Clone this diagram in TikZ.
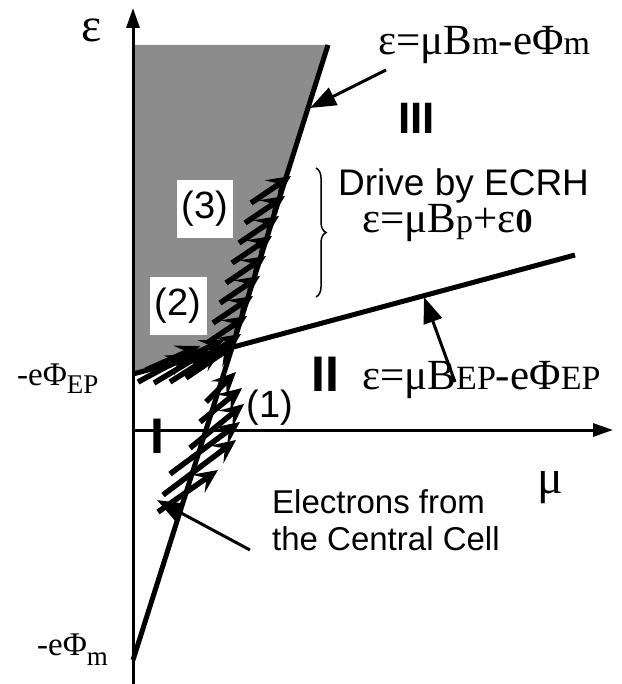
\documentclass[tikz,border=0pt]{standalone}
\usepackage{fontspec}
\setmainfont{Liberation Serif}
\setsansfont{Liberation Sans}
\usetikzlibrary{arrows.meta, decorations.pathreplacing}
\newcommand{\lowsub}[2]{\raisebox{-#1}{\fontsize{27}{27}\selectfont #2}}
\newcommand{\insub}[1]{{\fontsize{34}{34}\selectfont #1}}

\begin{document}
\begin{tikzpicture}[x=1pt, y=-1pt,
    axis/.style={line width=3pt, -{Triangle[length=20pt,width=13pt]}},
    border/.style={line width=5pt},
    pointer/.style={line width=3pt, -{Triangle[length=26pt,width=19pt]}},
    bolt/.style={line width=5.5pt, -{Stealth[length=24pt,width=22pt,inset=10pt]}},
    eqn/.style={font=\fontsize{43}{45}\selectfont, inner sep=0pt},
    txt/.style={font=\sffamily\fontsize{33}{37}\selectfont, inner sep=0pt},
    region/.style={font=\sffamily\bfseries\fontsize{50}{50}\selectfont, inner sep=0pt},
    tag/.style={font=\sffamily\fontsize{38}{38}\selectfont, inner sep=1pt}]
    \useasboundingbox (0,0) rectangle (621,684);

    % Axes and boundary lines
    \coordinate (ybot) at (133,684);
    \coordinate (ytop) at (133,8);
    \coordinate (xorig) at (133,430);
    \coordinate (xend) at (613,430);
    \coordinate (mlow) at (133,660);
    \coordinate (mtop) at (328,45);
    \coordinate (eplow) at (133,374);
    \coordinate (eptop) at (575,255);
    \coordinate (cross) at (232,347);
    \coordinate (corner) at (133,45);

    \fill[black!45] (corner) -- (mtop) -- (cross) -- (eplow) -- cycle;
    \draw[axis] (ybot) -- (ytop);
    \draw[axis] (xorig) -- (xend);
    \draw[border] (mlow) -- (mtop);
    \draw[border] (eplow) -- (eptop);

    % Electron paths
    \foreach \hx/\hy in {291/176, 285/196, 279/216, 272/236, 266/256, 260/276, 253/296, 247/316, 241/334}
        \draw[bolt] (\hx-40,\hy+27) -- (\hx,\hy);
    \foreach \tx/\ty/\hx/\hy in {138/382/190/354, 154/383/206/352, 170/382/222/349, 186/378/236/344, 146/370/200/346, 168/366/224/340}
        \draw[bolt] (\tx,\ty) -- (\hx,\hy);
    \foreach \tx/\ty/\hx/\hy in {163/495/236/440, 170/474/240/422, 190/448/244/404, 200/422/242/388, 206/402/236/372, 158/512/218/470}
        \draw[bolt] (\tx,\ty) -- (\hx,\hy);

    % Labels on the axes
    \node[font=\fontsize{48}{48}\selectfont] (eps) at (92,30) {ε};
    \node[font=\fontsize{48}{48}\selectfont] (mu) at (550,488) {μ};
    \node[eqn, anchor=base west, font=\fontsize{33}{33}\selectfont] (phiep) at (17,385) {-eΦ\lowsub{8pt}{EP}};
    \node[eqn, anchor=base west, font=\fontsize{33}{33}\selectfont] (phim) at (37,655) {-eΦ\lowsub{10pt}{m}};

    % Regions
    \node[region, anchor=base west] (r1) at (150,453) {I};
    \node[region, anchor=base west] (r2) at (311,391) {II};
    \node[region, anchor=base west, font=\sffamily\bfseries\fontsize{44}{44}\selectfont] (r3) at (398,134) {III};

    % Stages
    \node[tag] (s1) at (270,408) {(1)};
    \node[tag, fill=white, minimum width=57pt, minimum height=58pt] (s2) at (178,306) {(2)};
    \node[tag, fill=white, minimum width=56pt, minimum height=58pt] (s3) at (205,209) {(3)};

    % Equations and notes
    \node[eqn, anchor=base west] (eqm) at (378,55) {ε=μB\insub{m}-eΦ\insub{m}};
    \node[txt, anchor=base west, font=\sffamily\fontsize{37}{37}\selectfont] (drive) at (338,196) {Drive by ECRH};
    \node[eqn, anchor=base west] (eqp) at (362,233) {ε=μB\insub{p}+ε\insub{\bfseries 0}};
    \node[eqn, anchor=base west] (eqep) at (362,389) {ε=μB\insub{EP}-eΦ\insub{EP}};
    \node[txt, anchor=base west, align=left] (elec) at (272,550) {Electrons from\\the Central Cell};

    \coordinate (btop) at (316,168);
    \coordinate (bbot) at (316,297);
    \draw[line width=1.5pt, decorate, decoration={brace, amplitude=10pt}] (btop) -- (bbot);

    % Pointers
    \coordinate (mhit) at (310,108);
    \coordinate (ephit) at (424,297);
    \coordinate (srchit) at (157,500);
    \draw[pointer] (386,70) -- (mhit);
    \draw[pointer] (455,382) -- (ephit);
    \draw[pointer] (250,550) -- (srchit);
\end{tikzpicture}
\end{document}
